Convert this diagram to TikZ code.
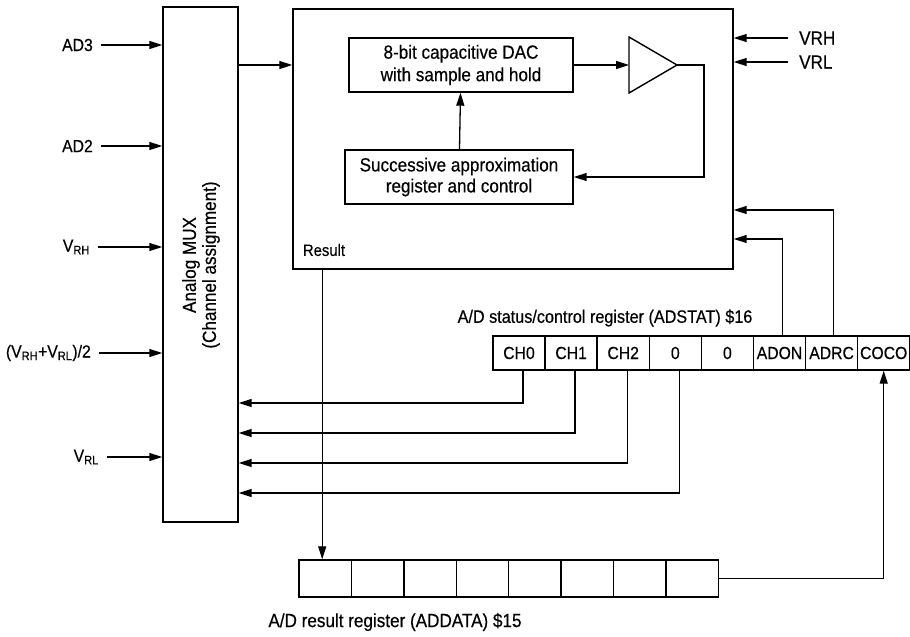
\documentclass[tikz,border=0pt]{standalone}
\usepackage{fontspec}
\setmainfont{Liberation Sans}[FakeStretch=0.9,FakeBold=0.4]
\usetikzlibrary{arrows.meta,positioning,calc}
\tikzset{
  blk/.style={draw, line width=1.4pt, inner sep=0pt},
  cell/.style={blk, minimum width=52.1pt, minimum height=34pt, font=\fontsize{17.5}{19}\selectfont},
  rcell/.style={blk, minimum width=52.4pt, minimum height=37pt},
  ar/.style={-{Triangle[length=13pt,width=8pt]}, line width=1.3pt},
  lbl/.style={font=\fontsize{19}{20}\selectfont, inner sep=0pt},
  inlbl/.style={font=\fontsize{17.5}{19}\selectfont, inner ysep=0pt, inner xsep=8pt},
}

\begin{document}
\begin{tikzpicture}[x=1pt,y=-1pt]
\useasboundingbox (0,0) rectangle (910,637);
% --- multiplexer and its inputs ---
\node[blk, minimum width=75pt, minimum height=515pt] (mux) at (200.5,264.5) {};
\node[lbl, rotate=90, align=center] at (201,265) {Analog MUX\\(Channel assignment)};
\node[inlbl, anchor=east] (ad3) at (101,45)  {AD3};
\node[inlbl, anchor=east] (ad2) at (101,146) {AD2};
\node[inlbl, anchor=east] (vrh) at (98,247)  {V\textsubscript{RH}};
\node[inlbl, anchor=east] (vmid) at (99,353) {(V\textsubscript{RH}+V\textsubscript{RL})/2};
\node[inlbl, anchor=east] (vrl) at (107,457) {V\textsubscript{RL}};
\foreach \n in {ad3,ad2,vrh,vmid,vrl}
  \draw[ar] (\n.east) -- (\n.east -| mux.west);

% --- converter ---
\node[blk, minimum width=440pt, minimum height=260pt] (adc) at (513,139) {};
\node[blk, minimum width=224pt, minimum height=54pt, lbl, align=center,
      font=\fontsize{19}{22.5}\selectfont] (dac) at (461,65)
      {8-bit capacitive DAC\\with sample and hold};
\node[blk, minimum width=228pt, minimum height=54pt, lbl, align=center,
      font=\fontsize{19}{21}\selectfont] (sar) at (459,177)
      {Successive approximation\\register and control};
\coordinate (ampin) at (629,65);
\coordinate (ampout) at (677,65);
\coordinate (fb) at (704,65);
\draw[line width=1.4pt] (629,37) -- (ampout) -- (629,93) -- cycle;
\node[lbl, font=\fontsize{16.5}{18}\selectfont] (res) at (324,250) {Result};
\draw[ar] (mux.east |- 0,65) -- (adc.west |- 0,65);
\draw[ar] (sar) -- (dac);
\draw[ar] (dac) -- (ampin);
\draw[ar] (ampout) -- (fb) |- (sar);

% --- reference inputs ---
\node[lbl, anchor=west, inner xsep=11pt] (refh) at (788,38) {VRH};
\node[lbl, anchor=west, inner xsep=11pt] (refl) at (788,62) {VRL};
\draw[ar] (refh.west) -- (refh.west -| adc.east);
\draw[ar] (refl.west) -- (refl.west -| adc.east);

% --- status/control register ---
\node[lbl, font=\fontsize{18}{20}\selectfont] (stlbl) at (605,318) {A/D status/control register (ADSTAT) \$16};
\foreach \t [count=\i] in {CH0,CH1,CH2,0,0,ADON,ADRC,COCO}
  \node[cell] (st\i) at ({519+52.1*(\i-1)},353) {\t};
\foreach \i in {1,...,4}
  \draw[ar] ([xshift=4pt]st\i.south) |- (mux.east |- 0,{373+30*\i});
\draw[ar] ([xshift=3pt]st6.north) |- (adc.east |- 0,239);
\draw[ar] ([xshift=2pt]st7.north) |- (adc.east |- 0,210);

% --- result register ---
\foreach \i in {1,...,8}
  \node[rcell] (rr\i) at ({325.2+52.4*(\i-1)},578.5) {};
\node[lbl] (rrlbl) at (395,622) {A/D result register (ADDATA) \$15};
\draw[ar] ([xshift=-3pt]rr1.north |- adc.south) -- ([xshift=-3pt]rr1.north);
\draw[ar] (rr8.east) -| (st8.south);
\end{tikzpicture}
\end{document}
